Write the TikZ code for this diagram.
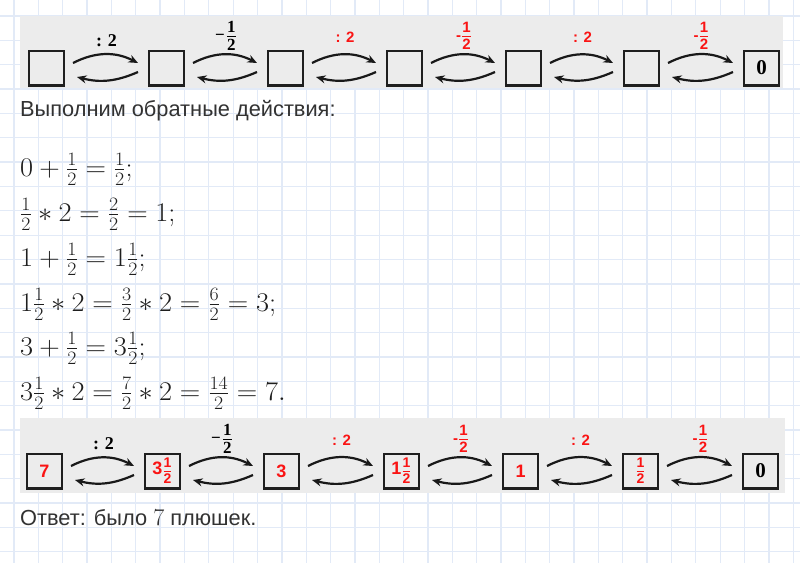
\documentclass[tikz,border=0pt]{standalone}
\usepackage{fix-cm}
\usepackage{fontspec}
\usepackage{amsmath}
\usepackage{graphicx}
\newfontfamily\rusf{Liberation Sans}
\newfontfamily\serf{Liberation Serif}
\usetikzlibrary{arrows.meta,calc}
\definecolor{gridc}{RGB}{226,234,247}
\definecolor{stripc}{RGB}{236,236,236}
\definecolor{redc}{RGB}{250,20,20}
\definecolor{txtc}{RGB}{50,50,50}
\definecolor{mathc}{RGB}{30,30,30}
\newcommand\rfr[3]{{\fontsize{#1}{#1}\selectfont$\genfrac{}{}{1.7pt}{1}{\hbox{#2}\rule[-1pt]{0pt}{1pt}}{\rule{0pt}{1pt}\hbox{#3}}$}}
\newcommand\bfr[2]{{\fontsize{17}{18}\selectfont\serf\bfseries−$\mkern1mu\genfrac{}{}{1.8pt}{1}{\hbox{#1}\rule[-1pt]{0pt}{1pt}}{\rule{0pt}{1pt}\hbox{#2}}$}}
\newcommand\mw[1]{\scalebox{1.05}[1]{#1}}
\tikzset{
  gridline/.style={draw=gridc, line width=1.3pt},
  strip/.style={fill=stripc, draw=none},
  cell/.style={draw=black!88, line width=2.4pt, minimum size=34.6pt, inner sep=0pt, fill=stripc},
  redtxt/.style={text=redc, font=\rusf\bfseries\fontsize{18}{20}\selectfont},
  zerotxt/.style={text=black, font=\serf\bfseries\fontsize{21}{22}\selectfont},
  arr/.style={line width=2.2pt, draw=black!90, -{Stealth[length=9.5pt,width=8pt]}},
  blab/.style={text=black, font=\serf\bfseries\fontsize{18}{20}\selectfont, inner sep=0pt},
  rlab/.style={text=redc, font=\rusf\bfseries\fontsize{15}{17}\selectfont, inner sep=0pt},
  ruline/.style={anchor=base west, inner sep=0pt, text=txtc, font=\rusf\fontsize{21.8}{26}\selectfont},
  mline/.style={anchor=base west, inner sep=0pt, text=mathc, font=\fontsize{27}{32}\selectfont},
}
\begin{document}
\begin{tikzpicture}[x=1pt,y=1pt]
\useasboundingbox (0,0) rectangle (800,-563);
\fill[white] (0,0) rectangle (800,-563);
\foreach \i in {0,...,32} \draw[gridline] (14+24.35*\i,0) -- (14+24.35*\i,-563);
\foreach \j in {0,...,22} \draw[gridline] (0,-16-24.35*\j) -- (800,-16-24.35*\j);
% strips
\fill[strip] (20,-16) rectangle (783,-88);
\fill[strip] (20,-418) rectangle (785,-493);
% top boxes
\node[cell] (t1) at (46.5,-68) {};
\node[cell] (t2) at (166.5,-68) {};
\node[cell] (t3) at (285.5,-68) {};
\node[cell] (t4) at (404.5,-68) {};
\node[cell] (t5) at (523.5,-68) {};
\node[cell] (t6) at (641.5,-68) {};
\node[cell, zerotxt] (t7) at (761.5,-68) {0};
% bottom boxes
\node[cell, redtxt] (u1) at (44.5,-471) {7};
\node[cell, redtxt] (u2) at (162.5,-471) {3\rfr{14}{1}{2}};
\node[cell, redtxt] (u3) at (281.5,-471) {3};
\node[cell, redtxt] (u4) at (401.5,-471) {1\rfr{14}{1}{2}};
\node[cell, redtxt] (u5) at (520.5,-471) {1};
\node[cell, redtxt] (u6) at (640.5,-471) {\rfr{14}{1}{2}};
\node[cell, zerotxt] (u7) at (760.5,-471) {0};
% arrows
\foreach \p in {t,u}{
  \foreach \a/\b in {1/2,2/3,3/4,4/5,5/6,6/7}{
    \draw[arr] ($(\p\a.east)+(8,5)$) to[bend left=27] ($(\p\b.west)+(-10,5)$);
    \draw[arr] ($(\p\b.west)+(-10,-4)$) to[bend left=19] ($(\p\a.east)+(12,-9)$);
  }
  \node[blab] (\p l1) at ($(\p1.east)!0.5!(\p2.west)+(0,27)$) {: 2};
  \node[blab] (\p l2) at ($(\p2.east)!0.5!(\p3.west)+(0,32)$) {\bfr{1}{2}};
  \node[rlab] (\p l3) at ($(\p3.east)!0.5!(\p4.west)+(0,31)$) {: 2};
  \node[rlab] (\p l4) at ($(\p4.east)!0.5!(\p5.west)+(0,32)$) {-\rfr{15}{1}{2}};
  \node[rlab] (\p l5) at ($(\p5.east)!0.5!(\p6.west)+(0,31)$) {: 2};
  \node[rlab] (\p l6) at ($(\p6.east)!0.5!(\p7.west)+(0,32)$) {-\rfr{15}{1}{2}};
}
% text
\node[ruline] (h1) at (20,-116) {Выполним обратные действия:};
\node[mline] (m1) at (20,-176) {\mw{$0+\frac{1}{2}=\frac{1}{2};$}};
\node[mline] (m2) at (20,-221) {\mw{$\frac{1}{2}\ast 2=\frac{2}{2}=1;$}};
\node[mline] (m3) at (20,-266) {\mw{$1+\frac{1}{2}=1\frac{1}{2};$}};
\node[mline] (m4) at (20,-311) {\mw{$1\frac{1}{2}\ast 2=\frac{3}{2}\ast 2=\frac{6}{2}=3;$}};
\node[mline] (m5) at (20,-355) {\mw{$3+\frac{1}{2}=3\frac{1}{2};$}};
\node[mline] (m6) at (20,-400) {\mw{$3\frac{1}{2}\ast 2=\frac{7}{2}\ast 2=\frac{14}{2}=7.$}};
\node[ruline] (ans) at (20,-525) {Ответ: было {\fontsize{24}{28}\selectfont$7$} плюшек.};
\end{tikzpicture}
\end{document}
